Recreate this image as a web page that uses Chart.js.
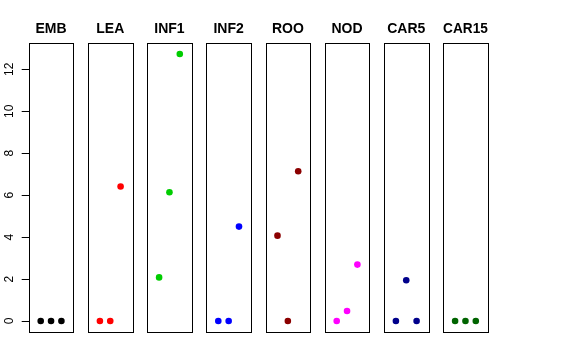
<!DOCTYPE html>
<html>
<head>
<meta charset="utf-8">
<script src="https://cdn.jsdelivr.net/npm/chart.js@4/dist/chart.umd.min.js"></script>
<style>
  html, body { margin: 0; padding: 0; background: #fff; }
  #wrap { position: relative; width: 576px; height: 360px; }
  #wrap canvas { position: absolute; left: 0; top: 0; }
</style>
</head>
<body>
<div id="wrap"></div>
<script>
// ---- data ----
const categories = ['EMB', 'LEA', 'INF1', 'INF2', 'ROO', 'NOD', 'CAR5', 'CAR15'];
const replicates = [1, 2, 3];
const EMB   = [0, 0, 0];
const LEA   = [0, 0, 6.41];
const INF1  = [2.08, 6.14, 12.73];
const INF2  = [0, 0, 4.50];
const ROO   = [4.07, 0, 7.14];
const NOD   = [0, 0.48, 2.69];
const CAR5  = [0, 1.94, 0];
const CAR15 = [0, 0, 0];
const yTicks = [0, 2, 4, 6, 8, 10, 12];

const seriesValues = [EMB, LEA, INF1, INF2, ROO, NOD, CAR5, CAR15];
const colors = ['#000000', '#FF0000', '#00CD00', '#0000FF', '#8B0000', '#FF00FF', '#00008B', '#006400'];

// ---- layout ----
const W = 576, H = 360;
const panelLeft0 = 28.7, panelStep = 59.2, panelW = 44.7;
const panelTop = 43.3, panelBottom = 331.7;
const titleLH = 14 * 1.2, titleTopPad = 21;
const FONT = "'Liberation Sans', Arial, Helvetica, sans-serif";

const boxPlugin = {
  id: 'panelBox',
  afterDatasetsDraw(chart) {
    const a = chart.chartArea, ctx = chart.ctx;
    ctx.save();
    ctx.strokeStyle = '#000';
    ctx.lineWidth = 1;
    const l = Math.round(a.left) + 0.5, t = Math.round(a.top) + 0.5;
    const r = Math.round(a.right) + 0.5, b = Math.round(a.bottom) + 0.5;
    ctx.strokeRect(l, t, r - l, b - t);
    ctx.restore();
  }
};

const wrap = document.getElementById('wrap');
categories.forEach((cat, i) => {
  const cv = document.createElement('canvas');
  cv.width = W; cv.height = H;
  cv.style.width = W + 'px'; cv.style.height = H + 'px';
  wrap.appendChild(cv);
  const L = panelLeft0 + panelStep * i;
  const first = i === 0;
  const yScale = {
    type: 'linear',
    display: first,
    min: -0.51,
    max: 13.24,
    afterBuildTicks: s => { s.ticks = yTicks.map(v => ({ value: v })); },
    border: { display: false },
    grid: {
      display: true,
      drawOnChartArea: false,
      drawTicks: true,
      tickLength: 7,
      color: '#000',
      lineWidth: 1
    },
    ticks: {
      minRotation: 90,
      maxRotation: 90,
      crossAlign: 'center',
      padding: 5.5,
      color: '#000',
      font: { family: FONT, size: 12 },
      callback: v => String(v)
    }
  };
  if (first) yScale.afterFit = s => { s.width = panelLeft0; };
  new Chart(cv.getContext('2d'), {
    type: 'scatter',
    data: {
      datasets: [{
        data: replicates.map((x, k) => ({ x: x, y: seriesValues[i][k] })),
        backgroundColor: colors[i],
        borderColor: colors[i],
        borderWidth: 0,
        pointRadius: 3.3,
        pointHoverRadius: 3.3
      }]
    },
    options: {
      responsive: false,
      animation: false,
      devicePixelRatio: 1,
      events: [],
      layout: {
        padding: {
          left: first ? 0 : L,
          right: W - (L + panelW),
          top: 0,
          bottom: H - panelBottom
        }
      },
      plugins: {
        legend: { display: false },
        tooltip: { enabled: false },
        title: {
          display: true,
          text: cat,
          fullSize: false,
          color: '#000',
          font: { family: FONT, size: 14, weight: 'bold', lineHeight: 1.2 },
          padding: { top: titleTopPad, bottom: panelTop - titleTopPad - titleLH }
        }
      },
      scales: {
        x: {
          type: 'linear',
          display: false,
          min: -0.16,
          max: 4.16
        },
        y: yScale
      }
    },
    plugins: [boxPlugin]
  });
});
</script>
</body>
</html>
